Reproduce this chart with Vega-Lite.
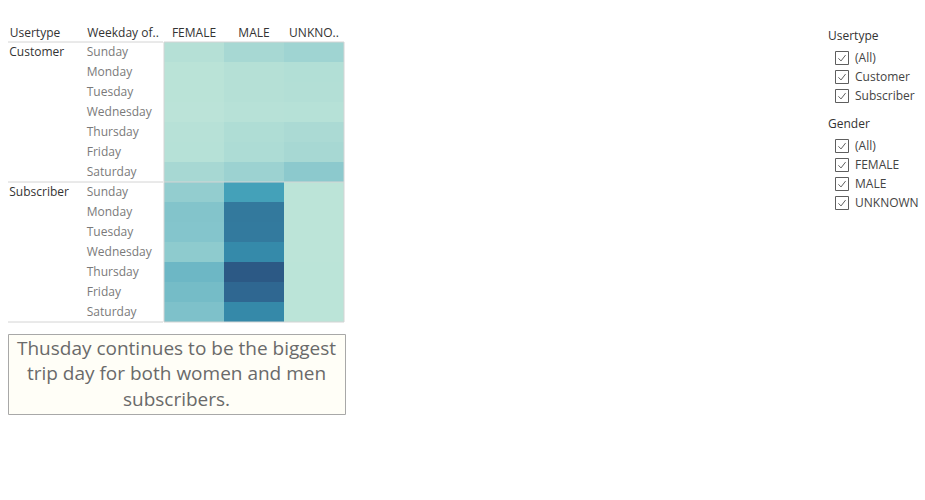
{
  "$schema": "https://vega.github.io/schema/vega-lite/v6.json",
  "padding": {"left": 7, "top": 26, "right": 0, "bottom": 0},
  "background": "white",
  "spacing": 10,
  "config": {
    "font": "Open Sans",
    "view": {"stroke": null},
    "axis": {"labelFont": "Open Sans", "titleFont": "Open Sans", "labelFontSize": 12, "titleFontSize": 12, "titleFontWeight": "normal"},
    "legend": {"titleFont": "Open Sans", "labelFont": "Open Sans", "titleFontSize": 12, "labelFontSize": 12, "titleFontWeight": "normal", "titleColor": "#333333", "labelColor": "#444444"}
  },
  "datasets": {
    "trips": [
      {"Usertype": "Customer", "Weekday": "Sunday", "Gender": "FEMALE", "Trips": 7000},
      {"Usertype": "Customer", "Weekday": "Sunday", "Gender": "MALE", "Trips": 18000},
      {"Usertype": "Customer", "Weekday": "Sunday", "Gender": "UNKNOWN", "Trips": 24000},
      {"Usertype": "Customer", "Weekday": "Monday", "Gender": "FEMALE", "Trips": 3000},
      {"Usertype": "Customer", "Weekday": "Monday", "Gender": "MALE", "Trips": 7000},
      {"Usertype": "Customer", "Weekday": "Monday", "Gender": "UNKNOWN", "Trips": 9000},
      {"Usertype": "Customer", "Weekday": "Tuesday", "Gender": "FEMALE", "Trips": 3000},
      {"Usertype": "Customer", "Weekday": "Tuesday", "Gender": "MALE", "Trips": 6800},
      {"Usertype": "Customer", "Weekday": "Tuesday", "Gender": "UNKNOWN", "Trips": 8600},
      {"Usertype": "Customer", "Weekday": "Wednesday", "Gender": "FEMALE", "Trips": 2000},
      {"Usertype": "Customer", "Weekday": "Wednesday", "Gender": "MALE", "Trips": 5000},
      {"Usertype": "Customer", "Weekday": "Wednesday", "Gender": "UNKNOWN", "Trips": 6000},
      {"Usertype": "Customer", "Weekday": "Thursday", "Gender": "FEMALE", "Trips": 5000},
      {"Usertype": "Customer", "Weekday": "Thursday", "Gender": "MALE", "Trips": 11500},
      {"Usertype": "Customer", "Weekday": "Thursday", "Gender": "UNKNOWN", "Trips": 15000},
      {"Usertype": "Customer", "Weekday": "Friday", "Gender": "FEMALE", "Trips": 6000},
      {"Usertype": "Customer", "Weekday": "Friday", "Gender": "MALE", "Trips": 13000},
      {"Usertype": "Customer", "Weekday": "Friday", "Gender": "UNKNOWN", "Trips": 18000},
      {"Usertype": "Customer", "Weekday": "Saturday", "Gender": "FEMALE", "Trips": 18000},
      {"Usertype": "Customer", "Weekday": "Saturday", "Gender": "MALE", "Trips": 27000},
      {"Usertype": "Customer", "Weekday": "Saturday", "Gender": "UNKNOWN", "Trips": 41000},
      {"Usertype": "Subscriber", "Weekday": "Sunday", "Gender": "FEMALE", "Trips": 34800},
      {"Usertype": "Subscriber", "Weekday": "Sunday", "Gender": "MALE", "Trips": 101500},
      {"Usertype": "Subscriber", "Weekday": "Sunday", "Gender": "UNKNOWN", "Trips": 1400},
      {"Usertype": "Subscriber", "Weekday": "Monday", "Gender": "FEMALE", "Trips": 48800},
      {"Usertype": "Subscriber", "Weekday": "Monday", "Gender": "MALE", "Trips": 156000},
      {"Usertype": "Subscriber", "Weekday": "Monday", "Gender": "UNKNOWN", "Trips": 1100},
      {"Usertype": "Subscriber", "Weekday": "Tuesday", "Gender": "FEMALE", "Trips": 48000},
      {"Usertype": "Subscriber", "Weekday": "Tuesday", "Gender": "MALE", "Trips": 154000},
      {"Usertype": "Subscriber", "Weekday": "Tuesday", "Gender": "UNKNOWN", "Trips": 1000},
      {"Usertype": "Subscriber", "Weekday": "Wednesday", "Gender": "FEMALE", "Trips": 38800},
      {"Usertype": "Subscriber", "Weekday": "Wednesday", "Gender": "MALE", "Trips": 132500},
      {"Usertype": "Subscriber", "Weekday": "Wednesday", "Gender": "UNKNOWN", "Trips": 1000},
      {"Usertype": "Subscriber", "Weekday": "Thursday", "Gender": "FEMALE", "Trips": 68700},
      {"Usertype": "Subscriber", "Weekday": "Thursday", "Gender": "MALE", "Trips": 200000},
      {"Usertype": "Subscriber", "Weekday": "Thursday", "Gender": "UNKNOWN", "Trips": 1500},
      {"Usertype": "Subscriber", "Weekday": "Friday", "Gender": "FEMALE", "Trips": 61700},
      {"Usertype": "Subscriber", "Weekday": "Friday", "Gender": "MALE", "Trips": 179000},
      {"Usertype": "Subscriber", "Weekday": "Friday", "Gender": "UNKNOWN", "Trips": 1500},
      {"Usertype": "Subscriber", "Weekday": "Saturday", "Gender": "FEMALE", "Trips": 53300},
      {"Usertype": "Subscriber", "Weekday": "Saturday", "Gender": "MALE", "Trips": 134000},
      {"Usertype": "Subscriber", "Weekday": "Saturday", "Gender": "UNKNOWN", "Trips": 1600}
    ],
    "note": [
      {"Note": "Thusday continues to be the biggest\ntrip day for both women and men\nsubscribers."}
    ]
  },
  "vconcat": [
    {
      "hconcat": [
        {
          "width": 155,
          "height": 280,
          "data": {"name": "trips"},
          "transform": [
            {"filter": "datum.Gender == 'FEMALE'"},
            {"calculate": "datum.Usertype + '|' + datum.Weekday", "as": "Row"}
          ],
          "layer": [
            {
              "mark": {"type": "text", "align": "left", "baseline": "middle", "dx": -37.5, "fontSize": 12, "color": "#7a7a7a", "font": "Open Sans"},
              "encoding": {
                "x": {"datum": "Weekday of..", "type": "nominal",
                  "scale": {"domain": ["Usertype", "Weekday of.."], "paddingInner": 0.0625, "paddingOuter": 0},
                  "axis": {"orient": "top", "title": null, "labelAngle": 0, "labelAlign": "left", "labelBaseline": "bottom", "labelOffset": -37.5, "labelPadding": 3, "labelColor": "#333333", "domain": false, "ticks": false, "grid": false}
                },
                "y": {"field": "Row", "type": "nominal",
                  "scale": {"domain": ["Customer|Sunday", "Customer|Monday", "Customer|Tuesday", "Customer|Wednesday", "Customer|Thursday", "Customer|Friday", "Customer|Saturday", "Subscriber|Sunday", "Subscriber|Monday", "Subscriber|Tuesday", "Subscriber|Wednesday", "Subscriber|Thursday", "Subscriber|Friday", "Subscriber|Saturday"], "paddingInner": 0, "paddingOuter": 0},
                  "axis": null
                },
                "text": {"field": "Weekday", "type": "nominal"}
              }
            },
            {
              "transform": [{"filter": "datum.Weekday == 'Sunday'"}],
              "mark": {"type": "text", "align": "left", "baseline": "middle", "dx": -37.5, "fontSize": 12, "color": "#333333", "font": "Open Sans"},
              "encoding": {
                "x": {"datum": "Usertype", "type": "nominal"},
                "y": {"field": "Row", "type": "nominal"},
                "text": {"field": "Usertype", "type": "nominal"}
              }
            },
            {
              "transform": [{"filter": "datum.Weekday == 'Sunday'"}],
              "mark": {"type": "rule", "color": "#d4d4d4", "strokeWidth": 1},
              "encoding": {
                "y": {"field": "Row", "type": "nominal", "bandPosition": 0}
              }
            },
            {
              "transform": [{"filter": "datum.Row == 'Subscriber|Saturday'"}],
              "mark": {"type": "rule", "color": "#d4d4d4", "strokeWidth": 1},
              "encoding": {
                "y": {"field": "Row", "type": "nominal", "bandPosition": 1}
              }
            }
          ]
        },
        {
          "width": 180,
          "height": 280,
          "data": {"name": "trips"},
          "transform": [{"calculate": "datum.Usertype + '|' + datum.Weekday", "as": "Row"}],
          "layer": [
            {
              "mark": {"type": "point", "shape": "square", "filled": false, "size": 169, "strokeWidth": 1, "opacity": 1},
              "encoding": {
                "x": {"field": "Gender", "type": "nominal",
                  "scale": {"domain": ["FEMALE", "MALE", "UNKNOWN"], "paddingInner": 0, "paddingOuter": 0},
                  "axis": {"orient": "top", "title": null, "labelAngle": 0, "labelAlign": "center", "labelBaseline": "bottom", "labelColor": "#333333", "labelPadding": 3,
                    "labelExpr": "datum.value == 'UNKNOWN' ? 'UNKNO..' : datum.value",
                    "domain": false, "ticks": false, "grid": false}
                },
                "y": {"field": "Row", "type": "nominal",
                  "scale": {"domain": ["Customer|Sunday", "Customer|Monday", "Customer|Tuesday", "Customer|Wednesday", "Customer|Thursday", "Customer|Friday", "Customer|Saturday", "Subscriber|Sunday", "Subscriber|Monday", "Subscriber|Tuesday", "Subscriber|Wednesday", "Subscriber|Thursday", "Subscriber|Friday", "Subscriber|Saturday"], "paddingInner": 0, "paddingOuter": 0},
                  "axis": null
                },
                "shape": {
                  "field": "Usertype", "type": "nominal",
                  "scale": {"domain": ["(All)", "Customer", "Subscriber"], "range": ["M-1,-1H1V1H-1Z M-0.55,0.05L-0.15,0.45L0.55,-0.45", "M-1,-1H1V1H-1Z M-0.55,0.05L-0.15,0.45L0.55,-0.45", "M-1,-1H1V1H-1Z M-0.55,0.05L-0.15,0.45L0.55,-0.45"]},
                  "legend": {
                    "orient": "none", "legendX": 820, "legendY": -11, "title": "Usertype",
                    "symbolSize": 169, "symbolStrokeColor": "#5e5e5e", "symbolFillColor": "white", "symbolStrokeWidth": 1, "symbolOpacity": 1,
                    "symbolOffset": 7, "labelOffset": 6, "rowPadding": 1, "titlePadding": 8
                  }
                },
                "stroke": {
                  "field": "Gender", "type": "nominal",
                  "scale": {"domain": ["(All)", "FEMALE", "MALE", "UNKNOWN"], "range": ["#5e5e5e", "#5e5e5e", "#5e5e5e", "#5e5e5e"]},
                  "legend": {
                    "orient": "none", "legendX": 820, "legendY": 77, "title": "Gender",
                    "symbolType": "M-1,-1H1V1H-1Z M-0.55,0.05L-0.15,0.45L0.55,-0.45",
                    "symbolSize": 169, "symbolFillColor": "white", "symbolStrokeWidth": 1, "symbolOpacity": 1,
                    "symbolOffset": 7, "labelOffset": 6, "rowPadding": 1, "titlePadding": 8
                  }
                }
              }
            },
            {
              "mark": "rect",
              "encoding": {
                "x": {"field": "Gender", "type": "nominal"},
                "y": {"field": "Row", "type": "nominal"},
                "color": {
                  "field": "Trips", "type": "quantitative",
                  "scale": {"scheme": "tealblues", "zero": false, "nice": false},
                  "legend": null
                }
              }
            },
            {
              "transform": [{"filter": "datum.Weekday == 'Sunday' && datum.Gender == 'FEMALE'"}],
              "mark": {"type": "rule", "color": "#d4d4d4", "strokeWidth": 1},
              "encoding": {
                "y": {"field": "Row", "type": "nominal", "bandPosition": 0}
              }
            },
            {
              "transform": [{"filter": "datum.Row == 'Subscriber|Saturday' && datum.Gender == 'FEMALE'"}],
              "mark": {"type": "rule", "color": "#d4d4d4", "strokeWidth": 1},
              "encoding": {
                "y": {"field": "Row", "type": "nominal", "bandPosition": 1}
              }
            },
            {
              "transform": [{"filter": "datum.Row == 'Customer|Sunday' && datum.Gender == 'FEMALE'"}],
              "mark": {"type": "rule", "color": "#d4d4d4", "strokeWidth": 1},
              "encoding": {
                "x": {"field": "Gender", "type": "nominal", "bandPosition": 0}
              }
            },
            {
              "transform": [{"filter": "datum.Row == 'Customer|Sunday' && datum.Gender == 'UNKNOWN'"}],
              "mark": {"type": "rule", "color": "#d4d4d4", "strokeWidth": 1},
              "encoding": {
                "x": {"field": "Gender", "type": "nominal", "bandPosition": 1}
              }
            }
          ]
        }
      ],
      "spacing": -3
    },
    {
      "width": 337,
      "height": 80,
      "view": {"fill": "#fffef7", "stroke": "#a8a8a8"},
      "data": {"name": "note"},
      "mark": {"type": "text", "lineBreak": "\n", "align": "center", "baseline": "middle", "dy": -25.5, "fontSize": 19, "lineHeight": 25.5, "color": "#6a6a6a", "font": "Open Sans"},
      "encoding": {"text": {"field": "Note", "type": "nominal"}}
    }
  ]
}
